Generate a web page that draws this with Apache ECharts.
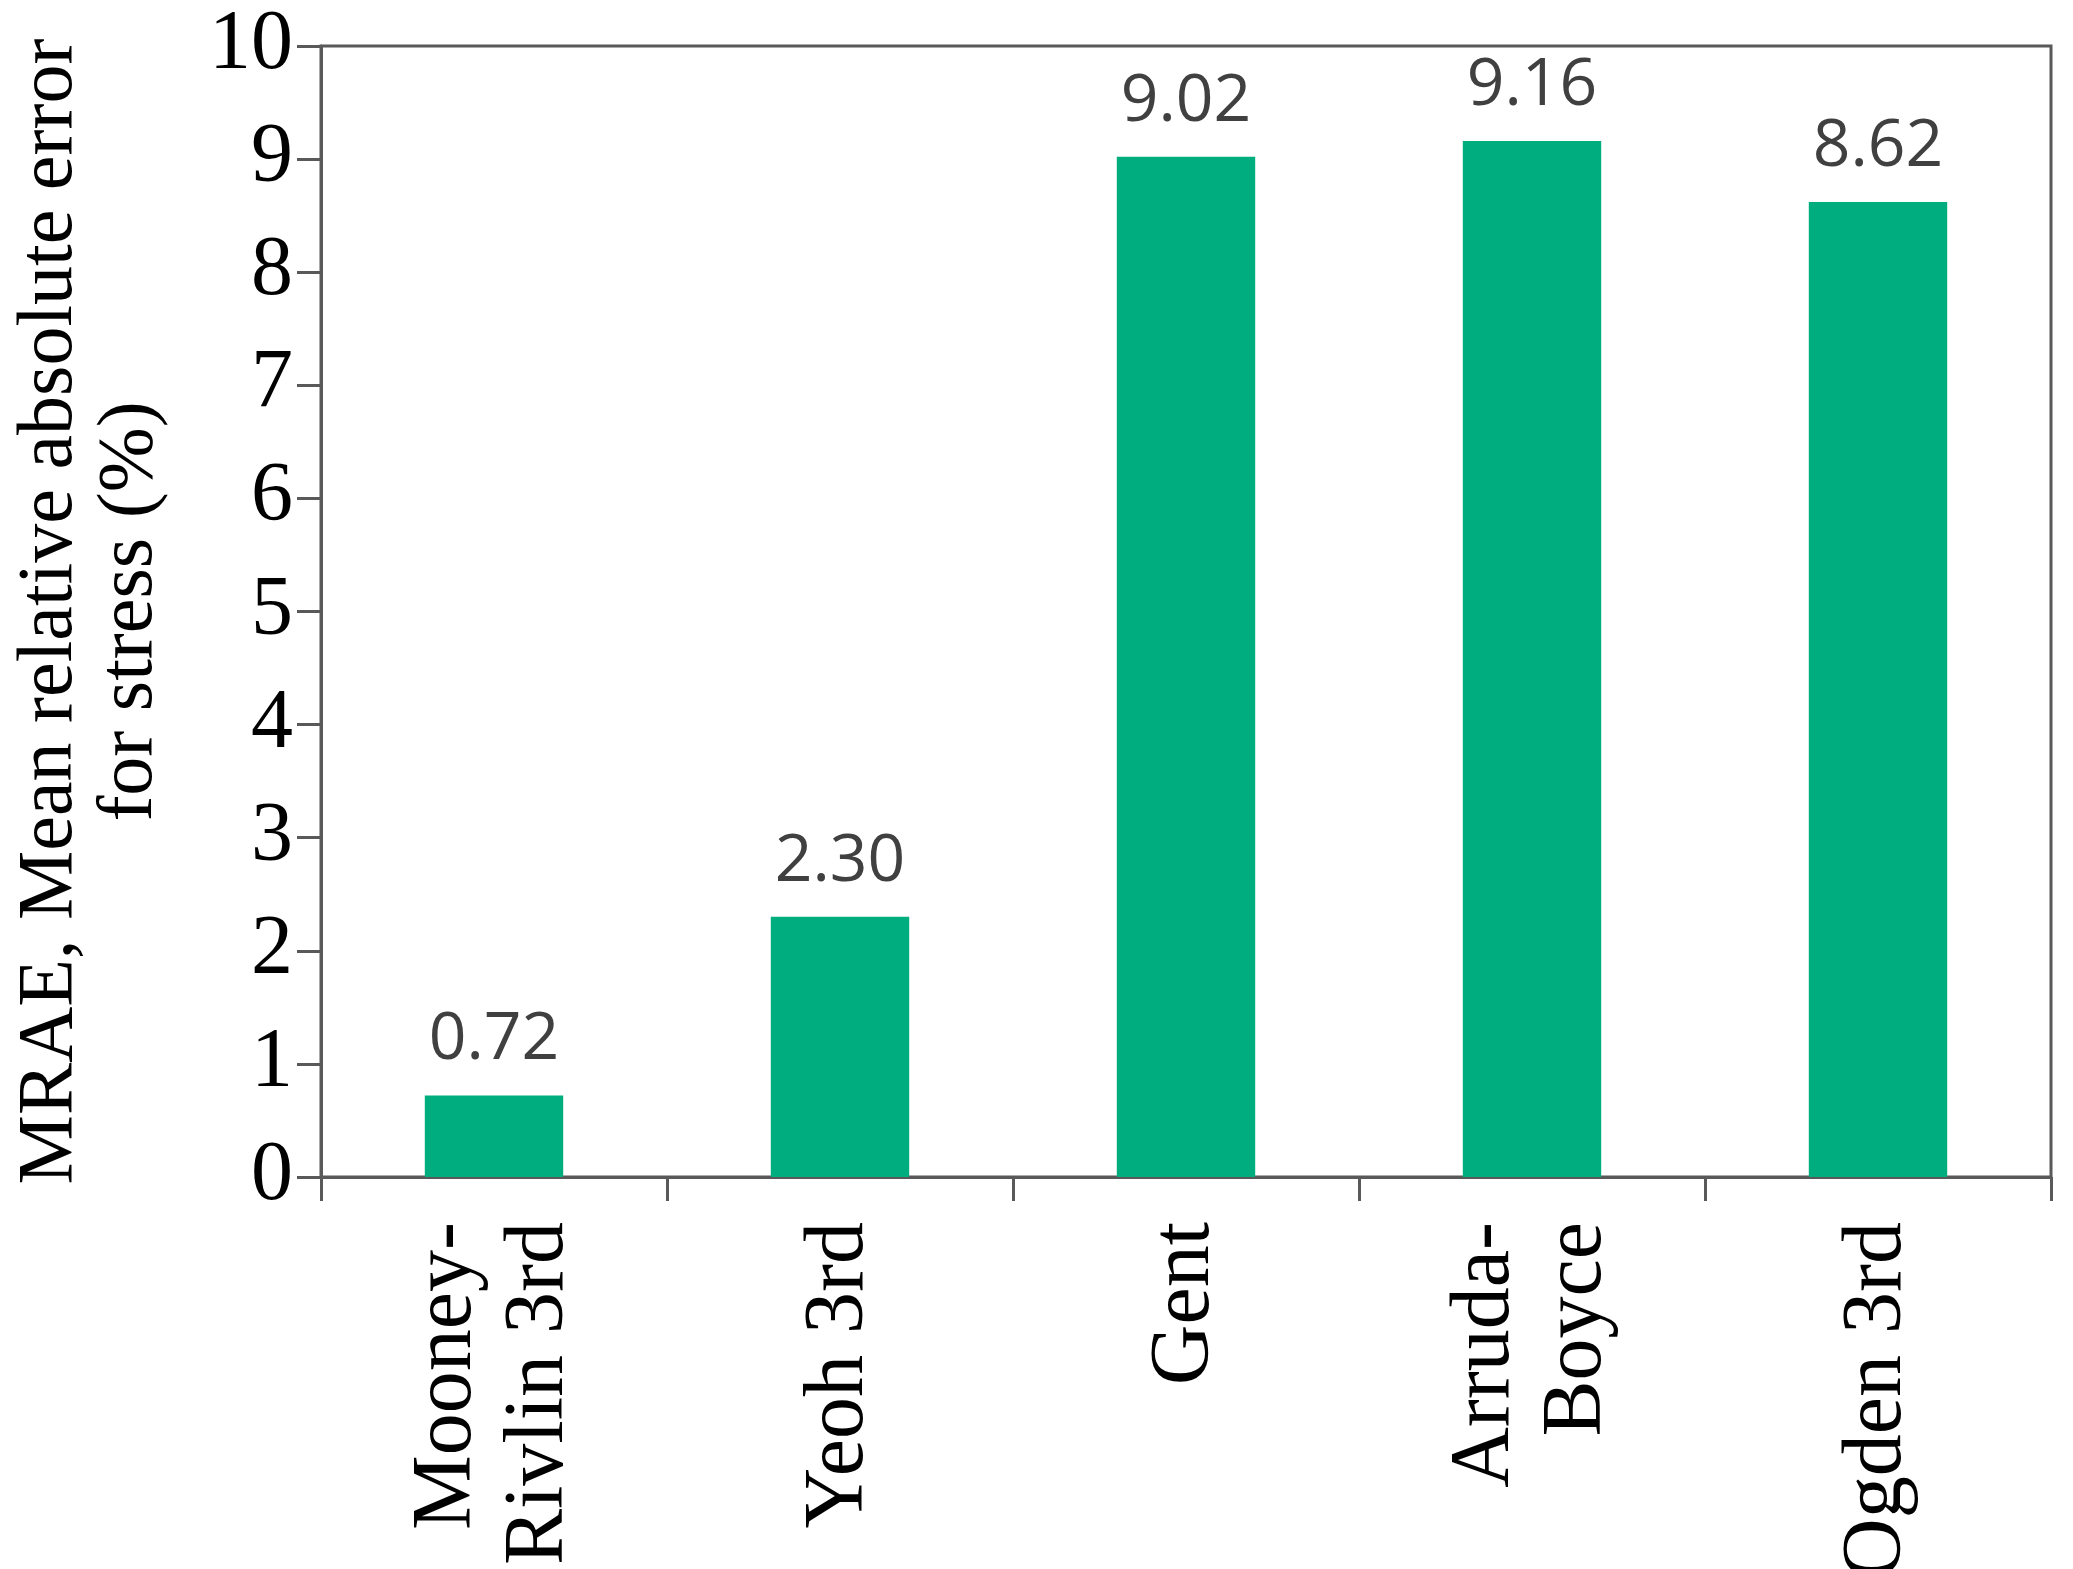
<!DOCTYPE html>
<html>
<head>
<meta charset="utf-8">
<script src="https://cdn.jsdelivr.net/npm/echarts@6/dist/echarts.min.js"></script>
<style>html,body{margin:0;padding:0;background:#fff}#chart{width:2073px;height:1569px}</style>
</head>
<body>
<div id="chart"></div>
<script>
const categories = ['Mooney-\nRivlin 3rd', 'Yeoh 3rd', 'Gent', 'Arruda-\nBoyce', 'Ogden 3rd'];
const values = [0.72, 2.30, 9.02, 9.16, 8.62];
const yTicks = [0, 1, 2, 3, 4, 5, 6, 7, 8, 9, 10];

const serif = '"Liberation Serif", "DejaVu Serif", serif';
const axisLine = {show: true, lineStyle: {color: '#595959', width: 3}};

let chart = echarts.init(document.getElementById('chart'));
chart.setOption({
    animation: false,
    grid: {left: 321, right: 22, top: 46, bottom: 392, containLabel: false, outerBoundsMode: 'none',
        show: true, borderColor: '#595959', borderWidth: 3},
    xAxis: {
        type: 'category',
        data: categories,
        axisLine: axisLine,
        axisTick: {show: true, inside: false, length: 24, alignWithLabel: false, lineStyle: {color: '#595959', width: 3}},
        axisLabel: {rotate: 90, fontFamily: serif, fontSize: 84, color: '#000', lineHeight: 92, margin: 45}
    },
    yAxis: {
        type: 'value',
        min: yTicks[0],
        max: yTicks[yTicks.length - 1],
        interval: 1,
        splitLine: {show: false},
        axisLine: axisLine,
        axisTick: {show: true, length: 24, lineStyle: {color: '#595959', width: 3}},
        axisLabel: {fontFamily: serif, fontSize: 84, color: '#000', margin: 28},
        name: 'MRAE, Mean relative absolute error\nfor stress (%)',
        nameLocation: 'middle',
        nameRotate: 90,
        nameGap: 150,
        nameTextStyle: {fontFamily: serif, fontSize: 78, color: '#000', lineHeight: 80}
    },
    series: [{
        type: 'bar',
        data: values,
        barWidth: '40%',
        itemStyle: {color: '#00AD7F'},
        label: {
            show: true,
            position: 'top',
            distance: 22,
            formatter: p => p.value.toFixed(2),
            fontFamily: '"Open Sans", "Liberation Sans", sans-serif',
            fontSize: 66,
            color: '#404040'
        }
    }]
});
</script>
</body>
</html>
